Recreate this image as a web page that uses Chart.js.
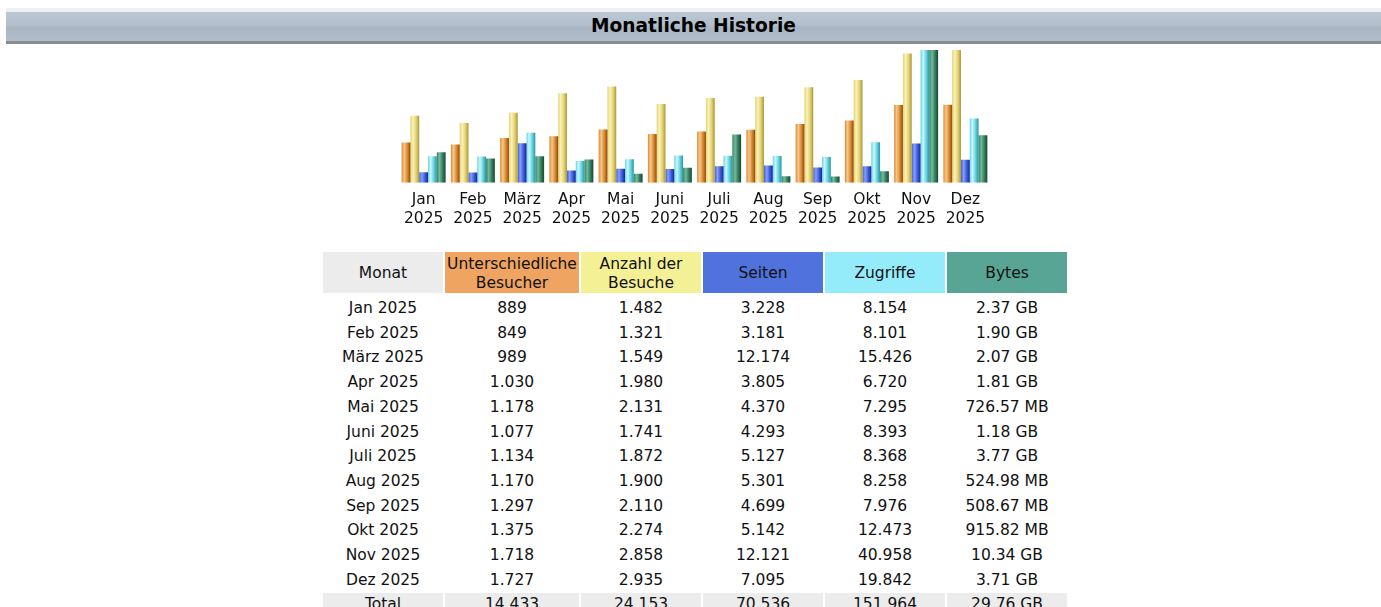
<!DOCTYPE html>
<html>
<head>
<meta charset="utf-8">
<script src="https://cdn.jsdelivr.net/npm/chart.js@4"></script>
<style>
  body { margin: 0; background: #fff; font-family: "DejaVu Sans", Verdana, sans-serif; width: 1381px; height: 607px; overflow: hidden; position: relative; }
  .head {
    position: absolute; left: 6px; right: 0; top: 8px; height: 29px;
    border-top: 4px solid #eef0f1; border-bottom: 3px solid #8a8c8e;
    background: linear-gradient(#bcc8d3, #b2bfcb 48%, #a9b7c4 52%, #b0bdca);
    text-align: center; font-weight: bold; font-size: 18.6px; line-height: 28px; color: #000;
  }
  .wrap { position: absolute; left: 380px; top: 44px; width: 630px; height: 200px; }
  table { position: absolute; left: 321px; top: 250px; border-collapse: separate; border-spacing: 2px; table-layout: fixed; font-size: 15.5px; color: #111; }
  td { padding: 1px 0 0 0; text-align: center; height: 21.7px; line-height: 21.7px; white-space: nowrap; }
  th { padding: 2px 0 0 0; font-weight: normal; height: 39px; line-height: 19px; text-align: center;
       border-bottom: 2px solid #fff; background-clip: padding-box; }
  .tot td { background: #ececec; }
</style>
</head>
<body>
<div class="head">Monatliche Historie</div>
<div class="wrap"><canvas id="hist"></canvas></div>
<table id="tbl">
  <colgroup><col style="width:120px"><col style="width:134px"><col style="width:120px"><col style="width:120px"><col style="width:120px"><col style="width:120px"></colgroup>
  <thead>
    <tr>
      <th style="background-color:#ececec">Monat</th>
      <th style="background-color:#efa462">Unterschiedliche<br>Besucher</th>
      <th style="background-color:#f4f096">Anzahl der<br>Besuche</th>
      <th style="background-color:#4f72dc">Seiten</th>
      <th style="background-color:#94ecfa">Zugriffe</th>
      <th style="background-color:#58a595">Bytes</th>
    </tr>
  </thead>
  <tbody></tbody>
</table>
<script>
const months = ["Jan", "Feb", "März", "Apr", "Mai", "Juni", "Juli", "Aug", "Sep", "Okt", "Nov", "Dez"];
const year = "2025";
const visitors = [889, 849, 989, 1030, 1178, 1077, 1134, 1170, 1297, 1375, 1718, 1727];
const visits = [1482, 1321, 1549, 1980, 2131, 1741, 1872, 1900, 2110, 2274, 2858, 2935];
const pages = [3228, 3181, 12174, 3805, 4370, 4293, 5127, 5301, 4699, 5142, 12121, 7095];
const hits = [8154, 8101, 15426, 6720, 7295, 8393, 8368, 8258, 7976, 12473, 40958, 19842];
// bytes in MB
const bytesMB = [2426.9, 1945.6, 2119.7, 1853.4, 726.57, 1208.3, 3860.5, 524.98, 508.67, 915.82, 10588.2, 3799.0];

// light, mid, dark per series
const shades = [
  ["#f4c88c", "#dc8a32", "#8e4a0a"],
  ["#faf2b8", "#e4d272", "#a8973a"],
  ["#889ef8", "#3e5fda", "#162696"],
  ["#ccf7fb", "#66d4e2", "#2a93a2"],
  ["#74bc9c", "#357f60", "#17482f"]
];

function fmt(n) { return String(n).replace(/\B(?=(\d{3})+(?!\d))/g, "."); }
function fmtBytes(mb) { return mb >= 1024 ? (mb / 1024).toFixed(2) + " GB" : mb.toFixed(2) + " MB"; }
const sum = a => a.reduce((s, v) => s + v, 0);

// table
const tbody = document.querySelector("#tbl tbody");
months.forEach((m, i) => {
  const tr = document.createElement("tr");
  tr.innerHTML = `<td>${m} ${year}</td><td>${fmt(visitors[i])}</td><td>${fmt(visits[i])}</td>` +
    `<td>${fmt(pages[i])}</td><td>${fmt(hits[i])}</td><td>${fmtBytes(bytesMB[i])}</td>`;
  tbody.appendChild(tr);
});
const tot = document.createElement("tr");
tot.className = "tot";
tot.innerHTML = `<td>Total</td><td>${fmt(sum(visitors))}</td><td>${fmt(sum(visits))}</td>` +
  `<td>${fmt(sum(pages))}</td><td>${fmt(sum(hits))}</td><td>${fmtBytes(sum(bytesMB))}</td>`;
tbody.appendChild(tot);

// cylinder look for every bar
const shine = {
  id: "shine",
  beforeDatasetDraw(chart, args) {
    const c = shades[args.index];
    args.meta.data.forEach(bar => {
      const l = bar.x - bar.width / 2, r = bar.x + bar.width / 2;
      const g = chart.ctx.createLinearGradient(l, 0, r, 0);
      g.addColorStop(0, c[1]);
      g.addColorStop(0.3, c[0]);
      g.addColorStop(0.65, c[1]);
      g.addColorStop(1, c[2]);
      bar.options.backgroundColor = g;
    });
  }
};

const series = [visitors, visits, pages, hits, bytesMB];
const axisOf = ["yv", "yv", "yp", "yp", "yb"];

new Chart(document.getElementById("hist"), {
  type: "bar",
  data: {
    labels: months.map(m => [m, year]),
    datasets: series.map((d, i) => ({
      data: d,
      yAxisID: axisOf[i],
      backgroundColor: () => shades[i][1],
      borderWidth: 0,
      barPercentage: 1,
      categoryPercentage: 0.893
    }))
  },
  options: {
    responsive: true,
    maintainAspectRatio: false,
    animation: false,
    layout: { padding: { left: 19, right: 20, top: 6, bottom: 8 } },
    plugins: { legend: { display: false }, tooltip: { enabled: false } },
    scales: {
      x: {
        grid: { display: false, drawTicks: false },
        border: { display: false },
        ticks: {
          color: "#111", padding: 8, autoSkip: false, maxRotation: 0,
          font: { family: "DejaVu Sans", size: 15.5, lineHeight: 1.2 }
        }
      },
      yv: { display: false, min: 0, max: Math.max(...visitors, ...visits) },
      yp: { display: false, min: 0, max: Math.max(...pages, ...hits) },
      yb: { display: false, min: 0, max: Math.max(...bytesMB) }
    }
  },
  plugins: [shine]
});
</script>
</body>
</html>
